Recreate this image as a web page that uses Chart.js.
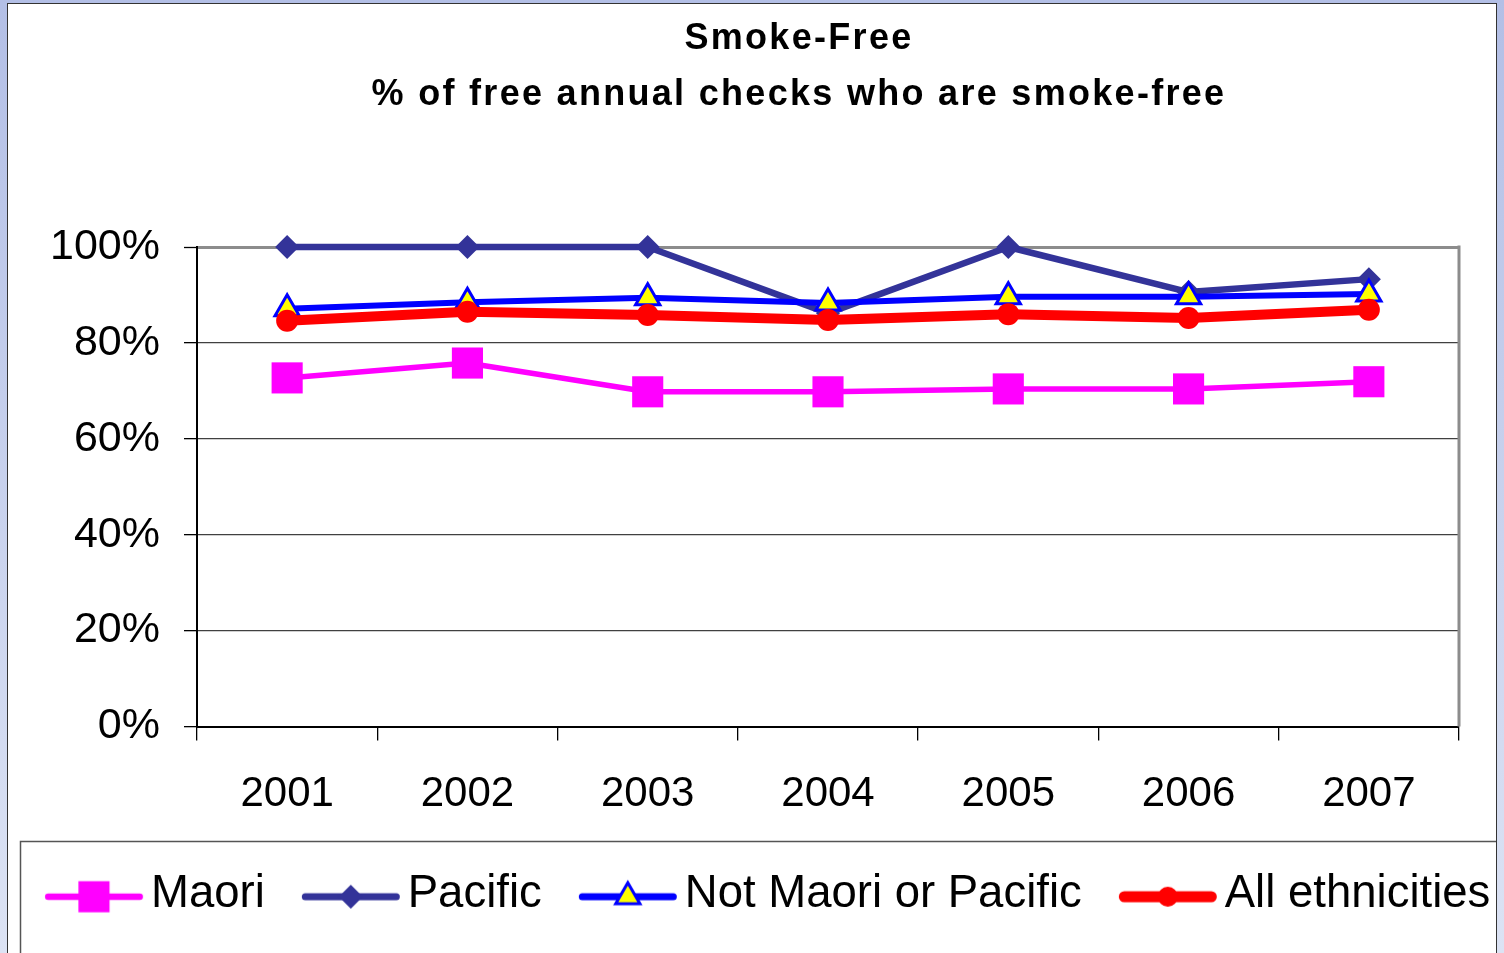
<!DOCTYPE html>
<html>
<head>
<meta charset="utf-8">
<title>Smoke-Free</title>
<script src="https://cdn.jsdelivr.net/npm/chart.js@4.4.0/dist/chart.umd.min.js"></script>
<style>
    html, body { margin: 0; padding: 0; }
    body {
        width: 1504px; height: 953px; overflow: hidden; position: relative;
        background: linear-gradient(to bottom, #b3bfe6, #dce3f4);
        font-family: "Liberation Sans", Arial, sans-serif;
    }
    #panel {
        position: absolute; left: 7px; top: 3px; width: 1488px; height: 990px;
        background: #fff; border: 1px solid #333;
    }
    #panel canvas { position: absolute; left: 0; top: 0; }
    #chartTitle {
        position: absolute; left: 300px; width: 998px; top: 9px; z-index: 2;
        text-align: center; font-weight: bold; font-size: 36px; line-height: 56px;
        letter-spacing: 2.3px; color: #000;
    }
</style>
</head>
<body>
<div id="panel"><canvas id="smokeChart" width="1488" height="949"></canvas></div>
<div id="chartTitle">Smoke-Free<br>% of free annual checks who are smoke-free</div>
<script>
document.addEventListener('DOMContentLoaded', function() {
    const canvasElement = document.getElementById('smokeChart');

    // Datos
    const years = ['2001', '2002', '2003', '2004', '2005', '2006', '2007'];
    const maori = [72.7, 75.8, 69.8, 69.8, 70.4, 70.4, 71.9];
    const pacific = [100, 100, 100, 86.2, 100, 90.6, 93.3];
    const notMaoriPacific = [87.1, 88.5, 89.4, 88.3, 89.6, 89.6, 90.2];
    const allEthnicities = [84.6, 86.5, 85.8, 84.8, 86.0, 85.2, 86.9];
    const seriesNames = ['Maori', 'Pacific', 'Not Maori or Pacific', 'All ethnicities'];
    const seriesValues = [maori, pacific, notMaoriPacific, allEthnicities];
    const yTicks = [0, 20, 40, 60, 80, 100];

    // Estilos de cada serie (mismo orden que seriesNames)
    const seriesStyle = [
        { color: '#ff00ff', lineWidth: 5.5, legendWidth: 6.5, pointStyle: 'rect', radius: 22, pointFill: '#ff00ff', pointStroke: '#ff00ff', pointStrokeWidth: 0, order: 4 },
        { color: '#333399', lineWidth: 6.5, legendWidth: 7, pointStyle: 'rectRot', radius: 12, pointFill: '#333399', pointStroke: '#333399', pointStrokeWidth: 0, order: 3 },
        { color: '#0000ff', lineWidth: 6, legendWidth: 7, pointStyle: 'triangle', radius: 14, pointFill: '#ffff00', pointStroke: '#0000ff', pointStrokeWidth: 3, order: 2 },
        { color: '#ff0000', lineWidth: 10, legendWidth: 11, pointStyle: 'circle', radius: 11, pointFill: '#ff0000', pointStroke: '#ff0000', pointStrokeWidth: 0, order: 1 }
    ];

    // Leyenda: línea + marcador como imagen
    const LEG_FONT = 45.5, LEG_GAP = 37, LEG_LINE = 98, LEG_TEXT_GAP = 8;
    const legBox = LEG_GAP + LEG_LINE + LEG_TEXT_GAP - LEG_FONT / 2;

    function drawMarker(g, st, x, y, r) {
        g.fillStyle = st.pointFill;
        g.strokeStyle = st.pointStroke;
        g.lineWidth = st.pointStrokeWidth;
        g.beginPath();
        if (st.pointStyle === 'rect') {
            const s = r * Math.SQRT1_2;
            g.rect(x - s, y - s, 2 * s, 2 * s);
        } else if (st.pointStyle === 'rectRot') {
            g.moveTo(x - r, y); g.lineTo(x, y - r); g.lineTo(x + r, y); g.lineTo(x, y + r);
            g.closePath();
        } else if (st.pointStyle === 'triangle') {
            const w = r * Math.sin(Math.PI * 2 / 3);
            g.moveTo(x, y - r); g.lineTo(x + w, y + r / 2); g.lineTo(x - w, y + r / 2);
            g.closePath();
        } else {
            g.arc(x, y, r, 0, Math.PI * 2);
        }
        g.fill();
        if (st.pointStrokeWidth > 0) g.stroke();
    }

    function legendSymbol(st) {
        const x0 = LEG_GAP - legBox / 2;
        const x1 = x0 + LEG_LINE;
        const half = Math.ceil(Math.max(Math.abs(x0), Math.abs(x1))) + 2;
        const c = document.createElement('canvas');
        c.width = half * 2;
        c.height = 64;
        const g = c.getContext('2d');
        const cy = 32 + 2;
        g.lineCap = 'round';
        g.strokeStyle = st.color;
        g.lineWidth = st.legendWidth;
        g.beginPath();
        g.moveTo(half + x0 + st.legendWidth / 2, cy);
        g.lineTo(half + x1 - st.legendWidth / 2, cy);
        g.stroke();
        drawMarker(g, st, half + (x0 + x1) / 2, cy, st.pointStyle === 'circle' ? 10 : st.radius);
        return c;
    }
    const legendSymbols = seriesStyle.map(legendSymbol);

    // Marco del área de trazado y de la leyenda
    const frameLines = {
        id: 'frameLines',
        beforeDatasetsDraw(chart) {
            const { ctx, chartArea: a } = chart;
            ctx.save();
            ctx.strokeStyle = '#8c8c8c';
            ctx.lineWidth = 3;
            ctx.beginPath();
            ctx.moveTo(a.right, a.top - 1.5);
            ctx.lineTo(a.right, a.bottom);
            ctx.stroke();
            ctx.restore();
        },
        afterDraw(chart) {
            const { ctx, legend } = chart;
            ctx.save();
            ctx.strokeStyle = '#555';
            ctx.lineWidth = 1.5;
            ctx.strokeRect(12.5, legend.top - 30.5, chart.width, 200);
            ctx.restore();
        }
    };

    Chart.defaults.font.family = '"Liberation Sans", Arial, sans-serif';
    Chart.defaults.color = '#000';

    const datasets = seriesNames.map((name, i) => {
        const st = seriesStyle[i];
        return {
            label: name,
            data: seriesValues[i],
            borderColor: st.color,
            backgroundColor: st.color,
            borderWidth: st.lineWidth,
            borderJoinStyle: 'round',
            tension: 0,
            pointStyle: st.pointStyle,
            pointRadius: st.radius,
            pointBackgroundColor: st.pointFill,
            pointBorderColor: st.pointStroke,
            pointBorderWidth: st.pointStrokeWidth,
            clip: false,
            order: st.order
        };
    });

    const config = {
        type: 'line',
        data: { labels: years, datasets: datasets },
        plugins: [frameLines],
        options: {
            responsive: false,
            animation: false,
            events: [],
            layout: { padding: { top: 243, bottom: 25.5, left: 0, right: 0 } },
            scales: {
                x: {
                    offset: true,
                    grid: { offset: true, drawOnChartArea: false, drawTicks: true, tickLength: 14, color: '#000', lineWidth: 1.3 },
                    border: { color: '#000', width: 2 },
                    ticks: { font: { size: 42 }, color: '#000', padding: 29, maxRotation: 0, autoSkip: false },
                    afterFit: scale => { scale.height = 145.5; }
                },
                y: {
                    min: 0,
                    max: 100,
                    afterBuildTicks: scale => { scale.ticks = yTicks.map(v => ({ value: v })); },
                    grid: {
                        color: c => (c.tick && c.tick.value === 100) ? '#8c8c8c' : '#404040',
                        lineWidth: c => (c.tick && c.tick.value === 100) ? 3 : 1.3,
                        tickColor: '#000',
                        tickWidth: 1.3,
                        tickLength: 13
                    },
                    border: { color: '#000', width: 2 },
                    ticks: {
                        font: { size: 43 },
                        color: '#000',
                        padding: 24,
                        callback: value => value + '%'
                    },
                    afterFit: scale => { scale.width = 189; }
                },
                yRight: {
                    position: 'right',
                    grid: { display: false },
                    border: { display: false },
                    ticks: { display: false },
                    afterFit: scale => { scale.width = 37; }
                }
            },
            plugins: {
                title: { display: false },
                tooltip: { enabled: false },
                legend: {
                    display: true,
                    position: 'bottom',
                    align: 'start',
                    labels: {
                        usePointStyle: true,
                        pointStyleWidth: legBox,
                        padding: 0,
                        color: '#000',
                        font: { size: LEG_FONT },
                        generateLabels: chart => chart.data.datasets.map((ds, i) => ({
                            text: ds.label,
                            pointStyle: legendSymbols[i],
                            fillStyle: 'rgba(0,0,0,0)',
                            strokeStyle: 'rgba(0,0,0,0)',
                            lineWidth: 0,
                            hidden: false,
                            datasetIndex: i,
                            fontColor: '#000'
                        }))
                    }
                }
            }
        }
    };

    new Chart(canvasElement, config);
});
</script>
</body>
</html>
